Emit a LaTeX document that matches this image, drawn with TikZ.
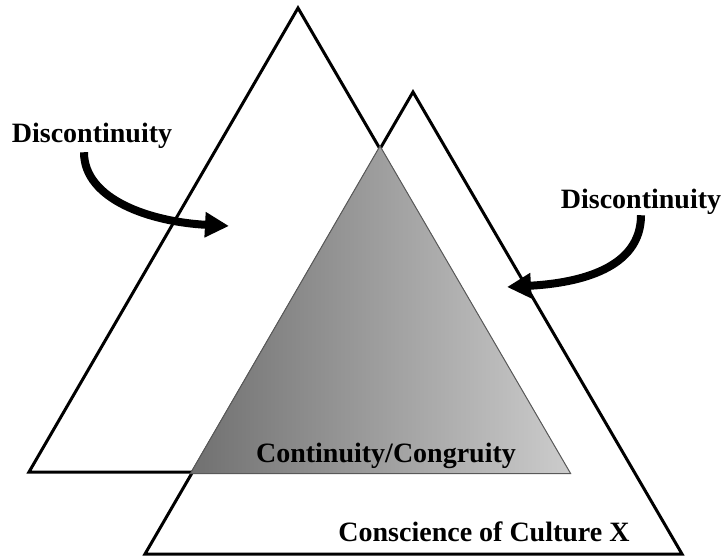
\documentclass[tikz,border=0pt]{standalone}
\usepackage{fontspec}
\setmainfont{Liberation Serif}
\usetikzlibrary{arrows.meta}
\definecolor{shadedark}{gray}{0.44}
\definecolor{shadelight}{gray}{0.80}
\definecolor{rimgray}{gray}{0.35}
\begin{document}
\begin{tikzpicture}[x=1pt,y=-1pt,
  tri/.style={line width=3pt,line join=miter},
  arr/.style={line width=8pt,-{Triangle[length=24pt,width=24pt]}},
  txt/.style={font=\fontsize{28}{32}\selectfont\bfseries,inner sep=0pt,anchor=base}]
\useasboundingbox (0,0) rectangle (725,556);
% the two cultures
\draw[tri] (29,472)--(298,8)--(568,472)--cycle;
\draw[tri] (145,554)--(413,92)--(682,554)--cycle;
% labels
\node[txt] (discL) at (92,143) {Discontinuity};
\node[txt] (discR) at (641,208) {Discontinuity};
\coordinate (tipL) at (229,226);
\coordinate (tipR) at (507,287);
\draw[arr] ([xshift=-8pt,yshift=-3pt]discL.south) .. controls +(0,48) and +(-77,-4) .. (tipL);
\draw[arr] ([yshift=-1pt]discR.south) .. controls +(0,53) and +(73,-4) .. (tipR);
% overlap
\shade[left color=shadedark,right color=shadelight,draw=rimgray,line width=1pt] (380,146)--(190.4,473.5)--(570.6,473.5)--cycle;
\node[txt] (congr) at (386,462) {Continuity/Congruity};
\node[txt] (consc) at (484,541) {Conscience of Culture X};
\end{tikzpicture}
\end{document}
